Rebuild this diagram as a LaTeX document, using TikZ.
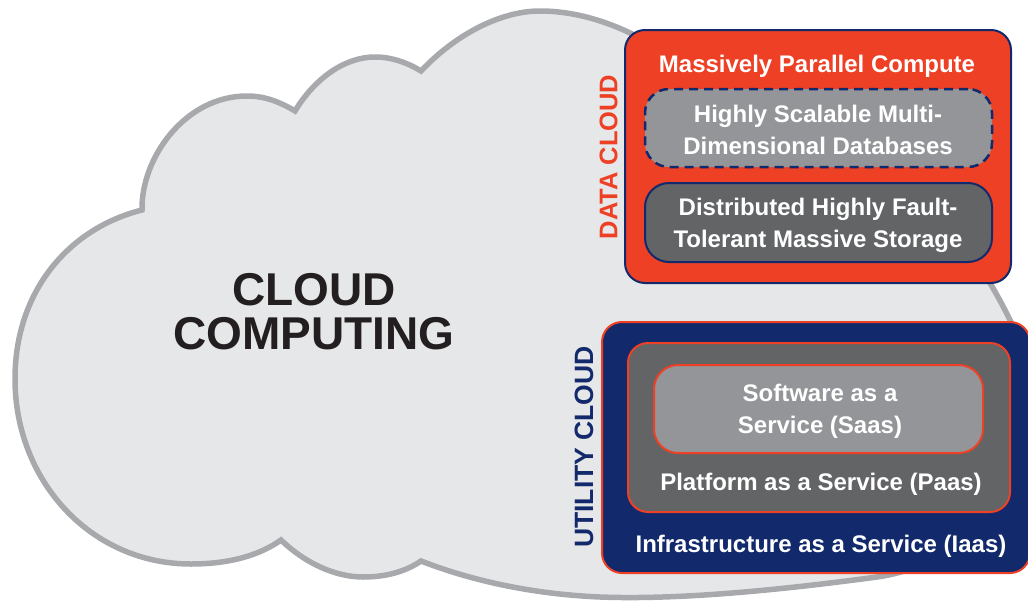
\documentclass[tikz,border=0pt]{standalone}
\usepackage{fontspec}
\setmainfont{Liberation Sans}
\usepackage{tikz}
\usetikzlibrary{positioning}
\definecolor{cloudfill}{HTML}{E6E7E8}
\definecolor{cloudline}{HTML}{A7A9AC}
\definecolor{datared}{HTML}{EE4025}
\definecolor{utilnavy}{HTML}{12296C}
\definecolor{lightslab}{HTML}{939598}
\definecolor{darkslab}{HTML}{636466}
\definecolor{inkblack}{HTML}{231F20}
\tikzset{
  layer/.style={draw, rounded corners=20pt, line width=2pt, inner sep=0pt},
  boxtext/.style={text=white, font=\bfseries\fontsize{24}{32}\selectfont, align=center},
  sidelabel/.style={rotate=90, font=\bfseries\fontsize{25.5}{25.5}\selectfont},
}

\begin{document}
\begin{tikzpicture}[x=1pt,y=-1pt]
      \useasboundingbox (0,0) rectangle (1028,608);
      \clip (0,0) rectangle (1028,608);
      % the cloud
      \draw[cloudline, fill=cloudfill, line width=5.5pt]
        (142,210) .. controls (141,158) and (185,96) .. (247,96)
        .. controls (265,96) and (280,102) .. (295,111)
        .. controls (315,78) and (345,57) .. (375,57)
        .. controls (392,57) and (408,63) .. (421,71)
        .. controls (455,35) and (500,11) .. (540,11)
        .. controls (575,11) and (610,22) .. (640,38)
        .. controls (800,60) and (950,150) .. (990,283)
        .. controls (1000,300) and (1005,310) .. (1010,320)
        .. controls (1060,420) and (1000,560) .. (877,577)
        .. controls (780,590) and (680,600) .. (600,597)
        .. controls (530,594) and (470,580) .. (421,561)
        .. controls (405,572) and (385,577) .. (363,577)
        .. controls (335,577) and (305,563) .. (281,540)
        .. controls (260,555) and (230,564) .. (191,564)
        .. controls (90,564) and (15,480) .. (15,379)
        .. controls (15,290) and (70,228) .. (142,210) -- cycle;
      \node[text=inkblack, font=\bfseries\fontsize{46}{44}\selectfont, align=center] (title) at (314,312) {CLOUD\\COMPUTING};
      % data cloud
      \node[layer, fill=datared, draw=utilnavy, minimum width=386pt, minimum height=253pt] (data) at (818,156.5) {};
      \node[layer, fill=lightslab, draw=utilnavy, dash pattern=on 9pt off 6pt, line width=2.5pt, rounded corners=24pt, minimum width=347pt, minimum height=78pt] (dbase) at (818.5,128) {};
      \node[layer, fill=darkslab, draw=utilnavy, rounded corners=24pt, minimum width=347pt, minimum height=79pt] (store) at (818.5,222.5) {};
      \node[boxtext] (mpc) at (817,66) {Massively Parallel Compute};
      \node[boxtext] (dbtext) at (818,130) {Highly Scalable Multi-\\Dimensional Databases};
      \node[boxtext] (sttext) at (818,225) {Distributed Highly Fault-\\Tolerant Massive Storage};
      \node[sidelabel, text=datared] (dlabel) at (608.5,157) {DATA CLOUD};
      % utility cloud
      \node[layer, fill=utilnavy, draw=datared, minimum width=428pt, minimum height=251pt] (util) at (816,447.5) {};
      \node[layer, fill=darkslab, draw=datared, minimum width=382pt, minimum height=169pt] (paas) at (819,427.5) {};
      \node[layer, fill=lightslab, draw=datared, rounded corners=24pt, minimum width=329pt, minimum height=88pt] (saas) at (818.5,409) {};
      \node[boxtext] (satext) at (820,411) {Software as a\\Service (Saas)};
      \node[boxtext] (patext) at (821,484) {Platform as a Service (Paas)};
      \node[boxtext] (iatext) at (821,546) {Infrastructure as a Service (Iaas)};
      \node[sidelabel, text=utilnavy, font=\bfseries\fontsize{26.5}{26.5}\selectfont] (ulabel) at (584,447) {UTILITY CLOUD};
    \end{tikzpicture}
\end{document}
